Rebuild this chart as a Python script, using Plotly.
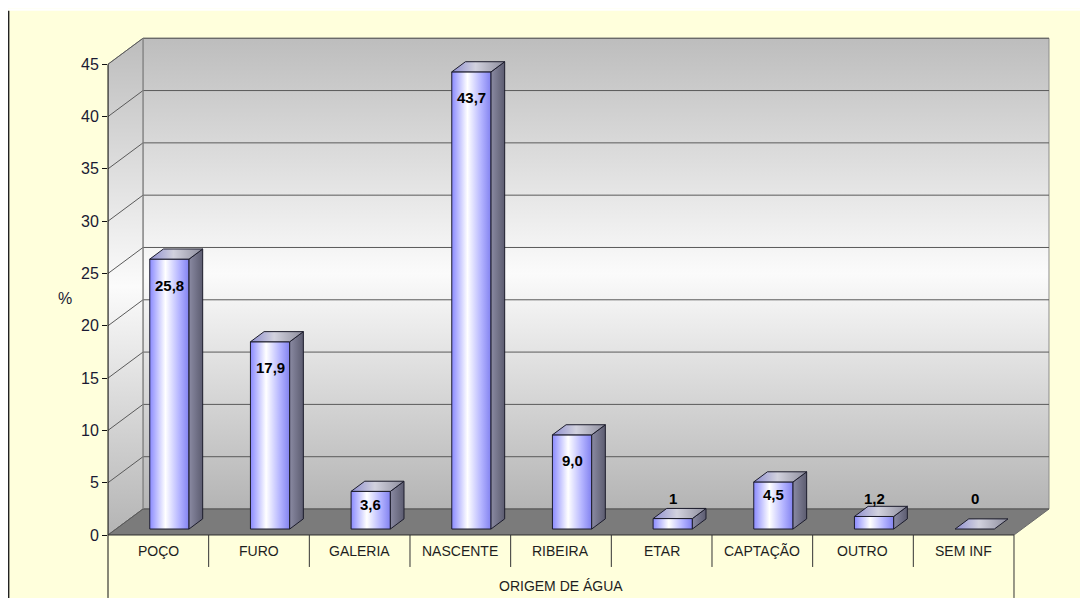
import plotly.graph_objects as go

# ---------------- data ----------------
categories = ["POÇO", "FURO", "GALERIA", "NASCENTE", "RIBEIRA", "ETAR", "CAPTAÇÃO", "OUTRO", "SEM INF"]
values = [25.8, 17.9, 3.6, 43.7, 9.0, 1.0, 4.5, 1.2, 0.0]
value_labels = ["25,8", "17,9", "3,6", "43,7", "9,0", "1", "4,5", "1,2", "0"]
y_ticks = [0, 5, 10, 15, 20, 25, 30, 35, 40, 45]
y_title = "%"
x_title = "ORIGEM DE ÁGUA"

# ---------------- geometry / style ----------------
OX, OY = 8, 8          # page body margin
W, H = 1080, 590       # figure size
FONT = "Liberation Sans, Arial, sans-serif"
N = len(categories)
YTOP = y_ticks[-1]
SX = 100.667          # px per category slot
SY = 10.467           # px per value unit
DX = 35 / SX          # depth of the 3D box (x, data units)
DY = 26 / SY          # depth of the 3D box (y, data units)
D0, D1 = 0.23, 0.62   # bar depth span (fraction of box depth)
BAR_HW = 0.195
BAR_OFF = 0.03

XR = [-0.5, N - 0.5 + DX + 0.02]
YR = [0, YTOP + DY + 0.12]
L = 108 - OX
B = H - (535 - OY)
PW = (XR[1] - XR[0]) * SX
PH = (YR[1] - YR[0]) * SY
R = W - L - PW
T = H - B - PH


def px_x(p):
    """page pixel x -> paper x"""
    return (p - OX - L) / PW


def px_y(q):
    """page pixel y -> paper y"""
    return (H - B - (q - OY)) / PH


def xp(x):
    return (x - XR[0]) / (XR[1] - XR[0])


def yp(y):
    return (y - YR[0]) / (YR[1] - YR[0])


fig = go.Figure()


def poly(xs, ys, cs=None, gtype="horizontal", start=None, stop=None,
         fillcolor=None, line_color="rgba(0,0,0,0)", lw=1):
    kw = {}
    if cs is not None:
        kw["fillgradient"] = dict(type=gtype, colorscale=cs, start=start, stop=stop)
    else:
        kw["fillcolor"] = fillcolor
    fig.add_trace(go.Scatter(
        x=list(xs) + [xs[0]], y=list(ys) + [ys[0]], mode="lines", fill="toself",
        line=dict(color=line_color, width=lw), hoverinfo="skip", showlegend=False, **kw))


WALL_CS = [[0, "#b4b4b4"], [0.5, "#fbfbfb"], [1, "#bdbdbd"]]
# back wall
poly([-0.5 + DX, N - 0.5 + DX, N - 0.5 + DX, -0.5 + DX],
     [DY, DY, YTOP + DY, YTOP + DY], WALL_CS, "vertical", DY, YTOP + DY,
     line_color="#8c8c8c")
# left wall
poly([-0.5, -0.5 + DX, -0.5 + DX, -0.5], [0, DY, YTOP + DY, YTOP],
     WALL_CS, "vertical", 0, YTOP + DY, line_color="#8c8c8c")
# floor
poly([-0.5, N - 0.5, N - 0.5 + DX, -0.5 + DX], [0, 0, DY, DY],
     fillcolor="#7b7b7b", line_color="#6a6a6a")

# gridlines
gx, gy = [], []
for v in y_ticks:
    gx += [-0.5 + DX, N - 0.5 + DX, None, -0.5, -0.5 + DX, None]
    gy += [v + DY, v + DY, None, v, v + DY, None]
fig.add_trace(go.Scatter(x=gx, y=gy, mode="lines", line=dict(color="#5a5a5a", width=1),
                         hoverinfo="skip", showlegend=False))
# back-left vertical edge
fig.add_trace(go.Scatter(x=[-0.5 + DX, -0.5 + DX], y=[DY, YTOP + DY], mode="lines",
                         line=dict(color="#8a8a8a", width=1), hoverinfo="skip", showlegend=False))

# bars
FRONT_CS = [[0, "#8a8aff"], [0.4, "#ffffff"], [0.75, "#b4b4ff"], [1, "#8282f0"]]
SIDE_CS = [[0, "#8a8aa2"], [1, "#5c5c70"]]
TOP_CS = [[0, "#8e8ed0"], [0.45, "#d2d2de"], [1, "#8c8c9c"]]
EDGE = "#1c1c2c"
ddx = (D1 - D0) * DX
ddy = (D1 - D0) * DY
annotations = []
for i, v in enumerate(values):
    cx = i + BAR_OFF
    x0 = cx - BAR_HW + D0 * DX
    x1 = cx + BAR_HW + D0 * DX
    yb = D0 * DY
    yt = v + D0 * DY
    if v > 0:
        poly([x0, x1, x1, x0], [yb, yb, yt, yt], FRONT_CS, "horizontal", x0, x1, line_color=EDGE)
        poly([x1, x1 + ddx, x1 + ddx, x1], [yb, yb + ddy, yt + ddy, yt],
             SIDE_CS, "horizontal", x1, x1 + ddx, line_color=EDGE)
    poly([x0, x1, x1 + ddx, x0 + ddx], [yt, yt, yt + ddy, yt + ddy],
         TOP_CS, "horizontal", x0, x1 + ddx, line_color=EDGE)
    hpx = v * SY
    if hpx >= 80:
        ly, ysh = yt, -26
    elif hpx >= 30:
        ly, ysh = yt, -13
    else:
        ly, ysh = D0 * DY, 31
    annotations.append(dict(x=(x0 + x1) / 2, y=ly, xref="x", yref="y", yshift=ysh,
                            xanchor="center", yanchor="middle",
                            text=value_labels[i], showarrow=False,
                            font=dict(family=FONT, size=15, color="#000000", weight="bold")))

# category labels
for i, c in enumerate(categories):
    annotations.append(dict(x=xp(i), y=px_y(551), xref="paper", yref="paper", text=c,
                            xanchor="center", yanchor="middle",
                            showarrow=False, font=dict(family=FONT, size=14, color="#1e1e1e")))
annotations.append(dict(x=xp((N - 1) / 2), y=px_y(586), xref="paper", yref="paper",
                        text=x_title, showarrow=False, xanchor="center", yanchor="middle",
                        font=dict(family=FONT, size=14, color="#1e1e1e")))
annotations.append(dict(x=px_x(65), y=px_y(298), xref="paper", yref="paper", text=y_title,
                        showarrow=False, xanchor="center", yanchor="middle",
                        font=dict(family=FONT, size=16, color="#1a1a33")))

shapes = []
# white top strip and left frame line
shapes.append(dict(type="rect", xref="paper", yref="paper", x0=px_x(OX), x1=px_x(OX + W),
                   y0=px_y(10.5), y1=px_y(OY), fillcolor="#ffffff", line=dict(width=0), layer="below"))
shapes.append(dict(type="line", xref="paper", yref="paper", x0=px_x(8.7), x1=px_x(8.7),
                   y0=px_y(10.5), y1=px_y(OY + H), line=dict(color="#222222", width=1.4)))
# y axis line (front) and category table
shapes.append(dict(type="line", xref="paper", yref="paper", x0=0, x1=0,
                   y0=yp(YTOP), y1=px_y(OY + H), line=dict(color="#111111", width=1)))
shapes.append(dict(type="line", xref="paper", yref="paper", x0=0, x1=xp(N - 0.5),
                   y0=0, y1=0, line=dict(color="#333333", width=1)))
shapes.append(dict(type="line", xref="paper", yref="paper", x0=xp(N - 0.5), x1=xp(N - 0.5),
                   y0=0, y1=px_y(OY + H), line=dict(color="#333333", width=1)))
for i in range(N - 1):
    shapes.append(dict(type="line", xref="paper", yref="paper", x0=xp(i + 0.5), x1=xp(i + 0.5),
                       y0=0, y1=px_y(567), line=dict(color="#333333", width=1)))

fig.update_layout(
    width=W, height=H, autosize=False,
    margin=dict(l=L, r=R, t=T, b=B, pad=0),
    paper_bgcolor="#ffffdc", plot_bgcolor="rgba(0,0,0,0)",
    showlegend=False,
    xaxis=dict(range=XR, showgrid=False, zeroline=False, showticklabels=False,
               showline=False, ticks="", fixedrange=True),
    yaxis=dict(range=YR, showgrid=False, zeroline=False, tickvals=y_ticks,
               ticktext=[str(t) for t in y_ticks], ticks="outside", ticklen=5,
               tickcolor="#111111", showline=False, fixedrange=True,
               tickfont=dict(family=FONT, size=16, color="#1a1a33")),
    annotations=annotations, shapes=shapes,
)

fig.write_html("out.html")
